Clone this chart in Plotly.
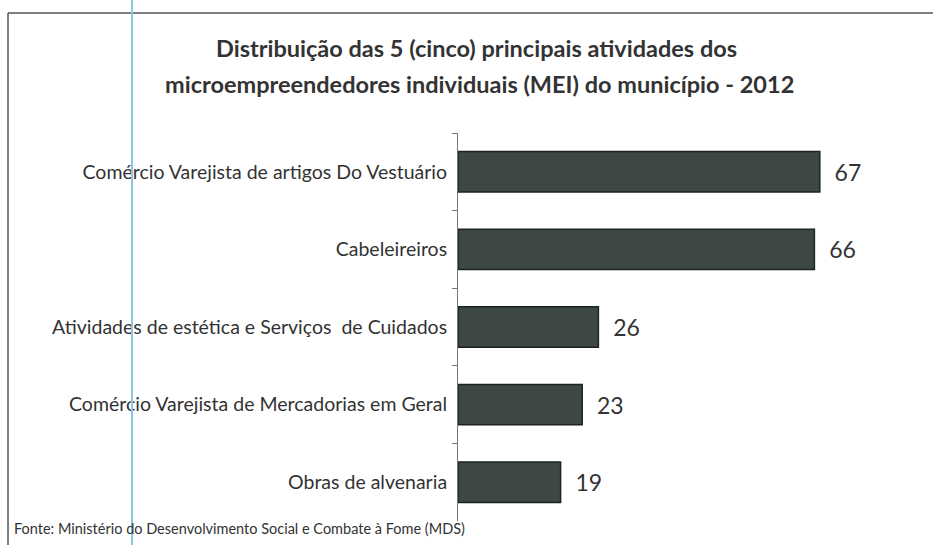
import plotly.graph_objects as go

categories = [
    "Comércio Varejista de artigos Do Vestuário",
    "Cabeleireiros",
    "Atividades de estética e Serviços  de Cuidados",
    "Comércio Varejista de Mercadorias em Geral",
    "Obras de alvenaria",
]
values = [67, 66, 26, 23, 19]
title_lines = [
    "Distribuição das 5 (cinco) principais atividades dos",
    "microempreendedores individuais (MEI) do município - 2012",
]
source = "Fonte: Ministério do Desenvolvimento Social e Combate à Fome (MDS)"

W, H = 933, 545
L, R, T, B = 458, 43, 133, 24
PW, PH = W - L - R, H - T - B

def px(x):
    return (x - L) / PW

def py(y):
    return (H - B - y) / PH

FONT = "Lato"

fig = go.Figure()
fig.add_trace(go.Bar(
    y=categories, x=values, orientation="h",
    marker=dict(color="#3c4746", line=dict(color="#1c2322", width=1.5)),
    text=[str(v) for v in values], texttemplate="  %{text}", textposition="outside",
    textfont=dict(family=FONT, size=23, color="#333333"),
    cliponaxis=False, hoverinfo="skip",
))

fig.update_layout(
    width=W, height=H,
    margin=dict(l=L, r=R, t=T, b=B),
    paper_bgcolor="white", plot_bgcolor="white",
    bargap=0.48, showlegend=False,
    font=dict(family=FONT, color="#333333"),
    xaxis=dict(range=[0, 80], visible=False, fixedrange=True),
    yaxis=dict(
        autorange="reversed", tickson="boundaries", ticks="outside",
        ticklen=5, tickcolor="#777777", showline=True, linecolor="#777777",
        linewidth=1, showgrid=False, tickfont=dict(family=FONT, size=19.5, color="#333333"),
        ticklabelstandoff=6, fixedrange=True,
    ),
)

fig.add_annotation(text="<b>" + title_lines[0] + "</b>", xref="paper", yref="paper",
                   x=px(476), y=py(48), showarrow=False, xanchor="center", yanchor="middle",
                   font=dict(family=FONT, size=23.5, color="#333333"))
fig.add_annotation(text="<b>" + title_lines[1] + "</b>", xref="paper", yref="paper",
                   x=px(479), y=py(84), showarrow=False, xanchor="center", yanchor="middle",
                   font=dict(family=FONT, size=23.5, color="#333333"))
fig.add_annotation(text=source, xref="paper", yref="paper",
                   x=px(12), y=py(528), showarrow=False, xanchor="left", yanchor="middle",
                   font=dict(family=FONT, size=14.5, color="#333333"))

# frame lines (chart border) and scan line
fig.add_shape(type="line", xref="paper", yref="paper", x0=px(8), x1=px(933), y0=py(13), y1=py(13),
              line=dict(color="#555555", width=1.5))
fig.add_shape(type="line", xref="paper", yref="paper", x0=px(8), x1=px(8), y0=py(13), y1=py(545),
              line=dict(color="#555555", width=1.5))
fig.add_shape(type="line", xref="paper", yref="paper", x0=px(132), x1=px(132), y0=py(0), y1=py(545),
              line=dict(color="#8ec5e8", width=2))

fig.write_html("out.html", config={"displayModeBar": False},
               post_script="document.body.style.margin='0';")
